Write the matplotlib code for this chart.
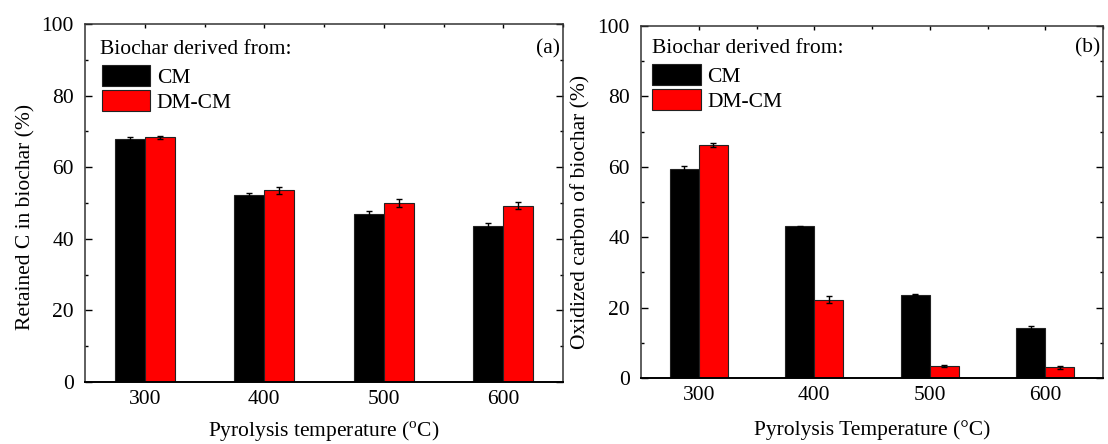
import numpy as np
import matplotlib
matplotlib.use("Agg")
import matplotlib.pyplot as plt
from matplotlib.ticker import MultipleLocator, FixedLocator

plt.rcParams['font.family'] = ['Liberation Serif', 'DejaVu Serif']
plt.rcParams['mathtext.fontset'] = 'custom'
plt.rcParams['mathtext.rm'] = 'Liberation Serif'

# ---------------- DATA ----------------
temps = ['300', '400', '500', '600']
series = ['CM', 'DM-CM']
colors = ['#000000', '#ff0000']

retained_cm = [68.0, 52.1, 46.8, 43.5]
retained_cm_err = [0.3, 0.6, 1.0, 0.9]
retained_dm = [68.4, 53.5, 50.0, 49.2]
retained_dm_err = [0.4, 1.1, 1.2, 1.0]

oxidized_cm = [59.5, 43.1, 23.7, 14.2]
oxidized_cm_err = [0.6, 0.2, 0.2, 0.5]
oxidized_dm = [66.2, 22.3, 3.5, 3.0]
oxidized_dm_err = [0.7, 0.9, 0.3, 0.4]

FS = 15.5
W, H = 1108, 444

fig = plt.figure(figsize=(W / 100, H / 100), dpi=100)


def px_axes(l, t, r, b):
    return fig.add_axes([l / W, 1 - b / H, (r - l) / W, (b - t) / H])


def panel(ax, v1, e1, v2, e2, ylabel, xlabel, tag, title_xy, leg_xy, ylab_xy, xlab_y):
    x = np.arange(len(temps))
    w = 0.25
    ekw = dict(ecolor='black', elinewidth=1.0, capthick=1.0)
    ax.bar(x - w / 2, v1, w, yerr=e1, color=colors[0], edgecolor='#222222',
           linewidth=0.8, capsize=2.5, error_kw=ekw, label=series[0])
    ax.bar(x + w / 2, v2, w, yerr=e2, color=colors[1], edgecolor='#222222',
           linewidth=0.8, capsize=2.5, error_kw=ekw, label=series[1])
    ax.set_xlim(-0.5, 3.5)
    ax.set_ylim(0, 100)
    ax.set_xticks(x)
    ax.set_xticklabels(temps)
    ax.xaxis.set_minor_locator(FixedLocator(x + 0.5))
    ax.yaxis.set_major_locator(MultipleLocator(20))
    ax.yaxis.set_minor_locator(MultipleLocator(10))
    ax.tick_params(axis='y', which='both', direction='in', left=True, right=True,
                   labelsize=FS, pad=8)
    ax.tick_params(axis='y', which='major', length=5, width=1)
    ax.tick_params(axis='y', which='minor', length=2.5, width=1)
    ax.tick_params(axis='x', which='both', direction='in', bottom=False, top=True,
                   labelsize=FS, pad=6)
    ax.tick_params(axis='x', which='major', length=3, width=1)
    ax.tick_params(axis='x', which='minor', length=2, width=1)
    for s in ax.spines.values():
        s.set_linewidth(1.1)
        s.set_color('#333333')
    ax.spines['bottom'].set_color('black')
    ax.spines['bottom'].set_linewidth(1.4)
    ax.set_ylabel(ylabel, fontsize=FS)
    ax.yaxis.set_label_coords(*ylab_xy)
    ax.set_xlabel(xlabel, fontsize=FS)
    ax.xaxis.set_label_coords(0.5, xlab_y)
    ax.text(0.993, title_xy[1], tag, transform=ax.transAxes, ha='right',
            va='center', fontsize=FS)
    ax.text(title_xy[0], title_xy[1], 'Biochar derived from:', transform=ax.transAxes,
            ha='left', va='center', fontsize=FS)
    ax.legend(loc='upper left', bbox_to_anchor=leg_xy, frameon=False, fontsize=FS,
              handlelength=2.25, handleheight=1.12, labelspacing=0.1,
              handletextpad=0.3, borderpad=0, borderaxespad=0)


ax1 = px_axes(85, 24, 563, 382)
panel(ax1, retained_cm, retained_cm_err, retained_dm, retained_dm_err,
      'Retained C in biochar (%)', 'Pyrolysis temperature ($^{\\rm o}$C)', '(a)',
      (0.031, 0.93), (0.035, 0.885), (-0.103, 0.46), -0.105)

ax2 = px_axes(641, 26, 1103, 378)
panel(ax2, oxidized_cm, oxidized_cm_err, oxidized_dm, oxidized_dm_err,
      'Oxidized carbon of biochar (%)', 'Pyrolysis Temperature (\u00b0C)', '(b)',
      (0.023, 0.937), (0.024, 0.892), (-0.11, 0.472), -0.12)

fig.savefig('out.png', dpi=100)
